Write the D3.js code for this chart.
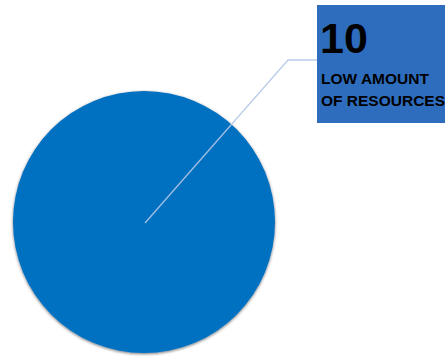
<!DOCTYPE html>
<html>
<head>
<meta charset="utf-8">
<script src="https://cdn.jsdelivr.net/npm/d3@7"></script>
<style>
  html, body { margin: 0; padding: 0; background: #fff; overflow: hidden; }
</style>
</head>
<body>
<svg id="chart" width="445" height="358"></svg>
<script>
// chart data
const categories = ['LOW AMOUNT OF RESOURCES'];
const values = [10];
const labelLines = [['LOW AMOUNT', 'OF RESOURCES']];
const colors = ['#0070C0'];

const svg = d3.select('#chart');
const cx = 144, cy = 222, radius = 131;

const defs = svg.append('defs');
const shadow = defs.append('filter')
  .attr('id', 'shadow')
  .attr('x', '-10%').attr('y', '-10%')
  .attr('width', '120%').attr('height', '120%');
shadow.append('feDropShadow')
  .attr('dx', 0).attr('dy', 1)
  .attr('stdDeviation', 1.6)
  .attr('flood-color', '#000')
  .attr('flood-opacity', 0.55);

const pie = d3.pie().sort(null).value(d => d.value);
const arc = d3.arc().innerRadius(0).outerRadius(radius);
const data = pie(categories.map((c, i) => ({ name: c, value: values[i] })));

const g = svg.append('g').attr('transform', `translate(${cx},${cy})`);

g.selectAll('path.slice')
  .data(data)
  .join('path')
  .attr('class', 'slice')
  .attr('d', arc)
  .attr('fill', (d, i) => colors[i])
  .attr('filter', 'url(#shadow)');

// leader line from centre to the label box
const leader = [[cx + 1, cy + 1], [288, 60], [317, 60]];
svg.append('path')
  .attr('d', d3.line()(leader))
  .attr('fill', 'none')
  .attr('stroke', '#B4C7E7')
  .attr('stroke-width', 1.3)
  .attr('stroke-opacity', 0.9);

// label box
const box = svg.append('g').attr('transform', 'translate(317,5)');
box.append('rect')
  .attr('width', 140)
  .attr('height', 118)
  .attr('fill', '#2E6DBE');

box.append('text')
  .attr('x', 3)
  .attr('y', 48)
  .attr('font-family', 'Liberation Sans, Arial, sans-serif')
  .attr('font-weight', 'bold')
  .attr('font-size', 43)
  .attr('fill', '#000')
  .text(values[0]);

box.selectAll('text.lbl')
  .data(labelLines[0])
  .join('text')
  .attr('class', 'lbl')
  .attr('x', 4)
  .attr('y', (d, i) => 79 + i * 22)
  .attr('font-family', 'Liberation Sans, Arial, sans-serif')
  .attr('font-weight', 'bold')
  .attr('font-size', 15.5)
  .attr('fill', '#000')
  .text(d => d);
</script>
</body>
</html>
